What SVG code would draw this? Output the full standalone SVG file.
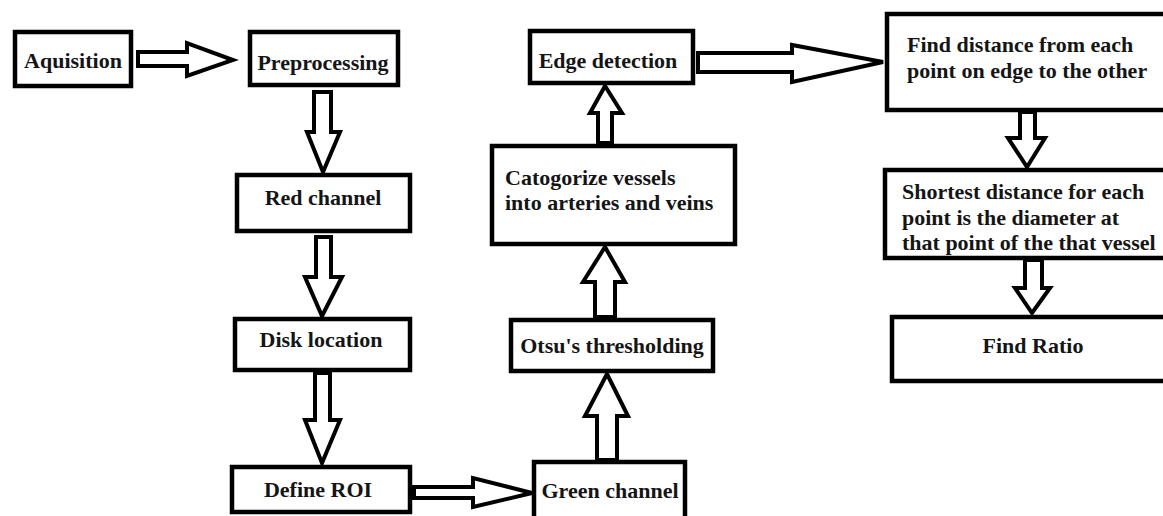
<svg xmlns="http://www.w3.org/2000/svg" width="1163" height="516" viewBox="0 0 1163 516">
<style>
.box{fill:#fff;stroke:#000;stroke-width:4.5}
.arr{fill:#fff;stroke:#000;stroke-width:4;stroke-linejoin:miter}
text{font-family:"Liberation Serif","Times New Roman",serif;font-weight:bold;font-size:22px;fill:#151515}
.c{text-anchor:middle}
</style>
<rect width="1163" height="516" fill="#fff"/>
<g id="connectors">
<polygon class="arr" points="138,52 187,52 187,43 233,60 187,76 187,66 138,66"/>
<polygon class="arr" points="314,92 331,92 331,132 340,132 323,172 307,132 314,132"/>
<polygon class="arr" points="316,237 331,237 331,277 342,277 322,316 305,277 316,277"/>
<polygon class="arr" points="315,373 330,373 330,420 340,420 322,463 305,420 315,420"/>
<polygon class="arr" points="414,487 473,487 473,478 532,493 473,507 473,498 414,498"/>
<polygon class="arr" points="597,460 617,460 617,416 628,416 607,374 585,416 597,416"/>
<polygon class="arr" points="595,317 615,317 615,282 625,282 605,247 583,282 595,282"/>
<polygon class="arr" points="598,143 612,143 612,113 622,113 605,86 590,113 598,113"/>
<polygon class="arr" points="698,53 792,53 792,45 883,62 792,82 792,72 698,72"/>
<polygon class="arr" points="1020,112 1035,112 1035,138 1045,138 1027,167 1008,138 1020,138"/>
<polygon class="arr" points="1025,260 1042,260 1042,288 1050,288 1032,313 1015,288 1025,288"/>
</g>
<g id="aquisition"><rect class="box" x="15" y="32" width="116" height="54"/><text class="c" x="73" y="68">Aquisition</text></g>
<g id="preprocessing"><rect class="box" x="250" y="32" width="148" height="53"/><text class="c" x="323" y="70">Preprocessing</text></g>
<g id="red-channel"><rect class="box" x="237" y="175" width="173" height="56"/><text class="c" x="323" y="205">Red channel</text></g>
<g id="disk-location"><rect class="box" x="235" y="319" width="175" height="51"/><text class="c" x="321" y="347">Disk location</text></g>
<g id="define-roi"><rect class="box" x="232" y="467" width="178" height="45"/><text class="c" x="318" y="497">Define ROI</text></g>
<g id="green-channel"><rect class="box" x="534" y="462" width="151" height="62"/><text class="c" x="610" y="498">Green channel</text></g>
<g id="otsu"><rect class="box" x="511" y="320" width="202" height="51"/><text class="c" x="612" y="353">Otsu's thresholding</text></g>
<g id="categorize"><rect class="box" x="492" y="146" width="243" height="98"/><text x="505" y="185">Catogorize vessels</text><text x="505" y="210">into arteries and veins</text></g>
<g id="edge-detection"><rect class="box" x="530" y="31" width="163" height="52"/><text class="c" x="608" y="68">Edge detection</text></g>
<g id="find-distance"><rect class="box" x="887" y="14" width="290" height="96"/><text x="907" y="52">Find distance from each</text><text x="907" y="78">point on edge to the other</text></g>
<g id="shortest"><rect class="box" x="885" y="170" width="290" height="88"/><text x="902" y="199">Shortest distance for each</text><text x="902" y="225">point is the diameter at</text><text x="902" y="250">that point of the that vessel</text></g>
<g id="find-ratio"><rect class="box" x="892" y="317" width="290" height="64"/><text class="c" x="1033" y="353">Find Ratio</text></g>
</svg>
